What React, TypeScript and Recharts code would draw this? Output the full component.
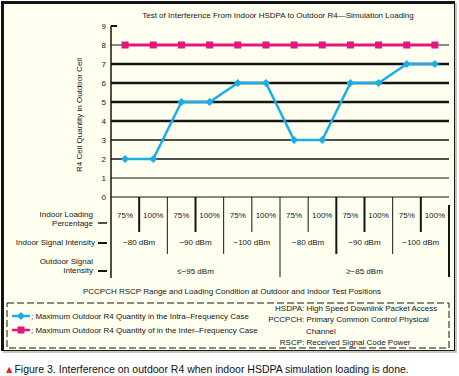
import React from 'react';
import {
  ComposedChart,
  Line,
  XAxis,
  YAxis,
  ReferenceLine,
  Customized,
} from 'recharts';

// ---------------------------------------------------------------------------
// Data
// ---------------------------------------------------------------------------

const loadingPct = ['75%', '100%', '75%', '100%', '75%', '100%', '75%', '100%', '75%', '100%', '75%', '100%'];
const intraFrequency = [2, 2, 5, 5, 6, 6, 3, 3, 6, 6, 7, 7];
const interFrequency = [8, 8, 8, 8, 8, 8, 8, 8, 8, 8, 8, 8];
const indoorSignal = ['−80 dBm', '−90 dBm', '−100 dBm', '−80 dBm', '−90 dBm', '−100 dBm'];
const outdoorSignal = ['≤−95 dBm', '≥−85 dBm'];
const yTicks = [0, 1, 2, 3, 4, 5, 6, 7, 8, 9];

const data = loadingPct.map((load, i) => ({
  load,
  intra: intraFrequency[i],
  inter: interFrequency[i],
}));

// ---------------------------------------------------------------------------
// Styles
// ---------------------------------------------------------------------------

const W = 459;
const H = 376;
const FONT = '"Liberation Sans", Arial, sans-serif';
const INK = '#151515';
const BLUE = '#1aaee8';
const PINK = '#e2167c';
const BG = '#fffff0';

const PLOT_LEFT = 111;
const PLOT_RIGHT = 449;
const PLOT_BOTTOM = 197;
const BAND = (PLOT_RIGHT - PLOT_LEFT) / loadingPct.length;

// grid line weight per y value
const gridWeight: Record<number, number> = { 1: 1, 2: 1.6, 3: 1.4, 4: 2.4, 5: 2.4, 6: 2.4, 7: 2.4, 8: 1 };

// separator style for boundary before category i (1..11)
const sepStyle: Record<number, { w: number; to: number }> = {
  1: { w: 2, to: 232 },
  2: { w: 1, to: 254 },
  3: { w: 2, to: 232 },
  4: { w: 1, to: 254 },
  5: { w: 1, to: 232 },
  6: { w: 1, to: 277 },
  7: { w: 1, to: 232 },
  8: { w: 2, to: 254 },
  9: { w: 2, to: 232 },
  10: { w: 1, to: 254 },
  11: { w: 2, to: 232 },
};

const Diamond = (props: any) => {
  const { cx, cy, fill, index } = props;
  if (cx == null || cy == null) return null;
  return (
    <polygon
      key={`d-${index}`}
      points={`${cx},${cy - 4} ${cx + 4},${cy} ${cx},${cy + 4} ${cx - 4},${cy}`}
      fill={fill}
    />
  );
};

const Square = (props: any) => {
  const { cx, cy, fill, index } = props;
  if (cx == null || cy == null) return null;
  return <rect key={`s-${index}`} x={cx - 3.5} y={cy - 3.5} width={7} height={7} fill={fill} />;
};

// table under the plot, drawn per category tick
const TableTick = (props: any) => {
  const { x, payload } = props;
  const i: number = payload.index;
  const left = x - BAND / 2;
  const txt = { fontFamily: FONT, fontSize: 8, fill: INK, textAnchor: 'middle' as const };
  return (
    <g>
      <text x={x} y={218} {...txt}>{payload.value}</text>
      {i % 2 === 0 && (
        <text x={x + BAND / 2} y={245} {...txt}>{indoorSignal[i / 2]}</text>
      )}
      {i % 6 === 0 && (
        <text x={x + BAND * 2.5} y={274} {...txt}>{outdoorSignal[i / 6]}</text>
      )}
      {i === 0 && <line x1={left} x2={left} y1={PLOT_BOTTOM} y2={278} stroke={INK} strokeWidth={1.5} />}
      {i > 0 && (
        <line x1={left} x2={left} y1={PLOT_BOTTOM} y2={sepStyle[i].to} stroke={INK} strokeWidth={sepStyle[i].w} />
      )}
      {i === loadingPct.length - 1 && (
        <line x1={x + BAND / 2} x2={x + BAND / 2} y1={205} y2={277} stroke={INK} strokeWidth={2} />
      )}
    </g>
  );
};

const Annotations = () => {
  const t = { fontFamily: FONT, fontSize: 8, fill: INK };
  return (
    <g>
      <text x={278} y={18} textAnchor="middle" {...t}>
        Test of Interference From Indoor HSDPA to Outdoor R4—Simulation Loading
      </text>
      <line x1={PLOT_LEFT} x2={117} y1={26} y2={26} stroke={INK} strokeWidth={2} />
      <text x={82} y={115} textAnchor="middle" transform="rotate(-90 82 115)" {...t}>
        R4 Cell Quantity in Outdoor Cell
      </text>

      {/* row labels */}
      <text x={93} y={217} textAnchor="end" {...t}>Indoor Loading</text>
      <text x={93} y={226} textAnchor="end" {...t}>Percentage</text>
      <line x1={98} x2={107} y1={223} y2={223} stroke={INK} strokeWidth={1.5} />
      <text x={95} y={245} textAnchor="end" {...t}>Indoor Signal Intensity</text>
      <line x1={98} x2={107} y1={243} y2={243} stroke={INK} strokeWidth={2} />
      <text x={93} y={264} textAnchor="end" {...t}>Outdoor Signal</text>
      <text x={93} y={273} textAnchor="end" {...t}>Intensity</text>
      <line x1={98} x2={107} y1={271} y2={271} stroke={INK} strokeWidth={2} />
      <text x={232} y={294} textAnchor="middle" {...t}>
        PCCPCH RSCP Range and Loading Condition at Outdoor and Indoor Test Positions
      </text>

      {/* legend */}
      <rect x={7} y={303} width={442} height={45} fill="none" stroke={INK} strokeWidth={1} strokeDasharray="7 3" />
      <line x1={12} x2={30} y1={316} y2={316} stroke={BLUE} strokeWidth={2.5} />
      <Diamond cx={21} cy={316} fill={BLUE} index={100} />
      <text x={31} y={319} {...t}>; Maximum Outdoor R4 Quantity in the Intra–Frequency Case</text>
      <line x1={12} x2={30} y1={330} y2={330} stroke={PINK} strokeWidth={2.5} />
      <Square cx={21} cy={330} fill={PINK} index={101} />
      <text x={31} y={333} {...t}>; Maximum Outdoor R4 Quantity of in the Inter–Frequency Case</text>

      <text x={302} y={311} textAnchor="end" {...t}>HSDPA</text>
      <text x={302} y={311} {...t}>: High Speed Downlink Packet Access</text>
      <text x={302} y={322} textAnchor="end" {...t}>PCCPCH</text>
      <text x={302} y={322} {...t}>: Primary Common Control Physical</text>
      <text x={306} y={334} {...t}>Channel</text>
      <text x={302} y={345} textAnchor="end" {...t}>RSCP</text>
      <text x={302} y={345} {...t}>: Received Signal Code Power</text>

      {/* caption */}
      <text x={4} y={373} fontFamily={FONT} fontSize={10.5} fill="#111">
        <tspan fill="#e02020">▲</tspan>Figure 3. Interference on outdoor R4 when indoor HSDPA simulation loading is done.
      </text>
    </g>
  );
};

export default function App() {
  return (
    <div style={{ position: 'absolute', left: 0, top: 0, width: W, height: H, background: '#fff' }}>
      <div
        style={{
          position: 'absolute',
          left: 1,
          top: 1,
          width: 450,
          height: 346,
          background: BG,
          borderLeft: `3px solid ${INK}`,
          borderTop: `3px solid ${INK}`,
          borderRight: `1px solid ${INK}`,
          borderBottom: `1px solid ${INK}`,
          boxShadow: '2px 2px 0 #c8c8c0',
        }}
      />
      <div style={{ position: 'absolute', left: 0, top: 0 }}>
        <ComposedChart
          width={W}
          height={H}
          data={data}
          margin={{ top: 26, right: W - PLOT_RIGHT, left: PLOT_LEFT - 30, bottom: H - PLOT_BOTTOM - 30 }}
        >
          <XAxis
            dataKey="load"
            height={30}
            axisLine={false}
            tickLine={false}
            interval={0}
            padding={{ left: BAND / 2, right: BAND / 2 }}
            tick={<TableTick />}
          />
          <YAxis
            width={30}
            domain={[0, 9]}
            ticks={yTicks}
            interval={0}
            tickSize={0}
            tickMargin={5}
            axisLine={{ stroke: INK, strokeWidth: 1.5 }}
            tickLine={false}
            tick={{ fontFamily: FONT, fontSize: 8, fill: INK }}
          />
          <ReferenceLine y={0} stroke={INK} strokeWidth={1} />
          {yTicks
            .filter((v) => gridWeight[v])
            .map((v) => (
              <ReferenceLine key={v} y={v} stroke={INK} strokeWidth={gridWeight[v]} />
            ))}
          <Line
            dataKey="inter"
            stroke={PINK}
            strokeWidth={3}
            dot={<Square fill={PINK} />}
            activeDot={false}
            isAnimationActive={false}
          />
          <Line
            dataKey="intra"
            type="linear"
            stroke={BLUE}
            strokeWidth={2.5}
            dot={<Diamond fill={BLUE} />}
            activeDot={false}
            isAnimationActive={false}
          />
          <Customized component={<Annotations />} />
        </ComposedChart>
      </div>
    </div>
  );
}
